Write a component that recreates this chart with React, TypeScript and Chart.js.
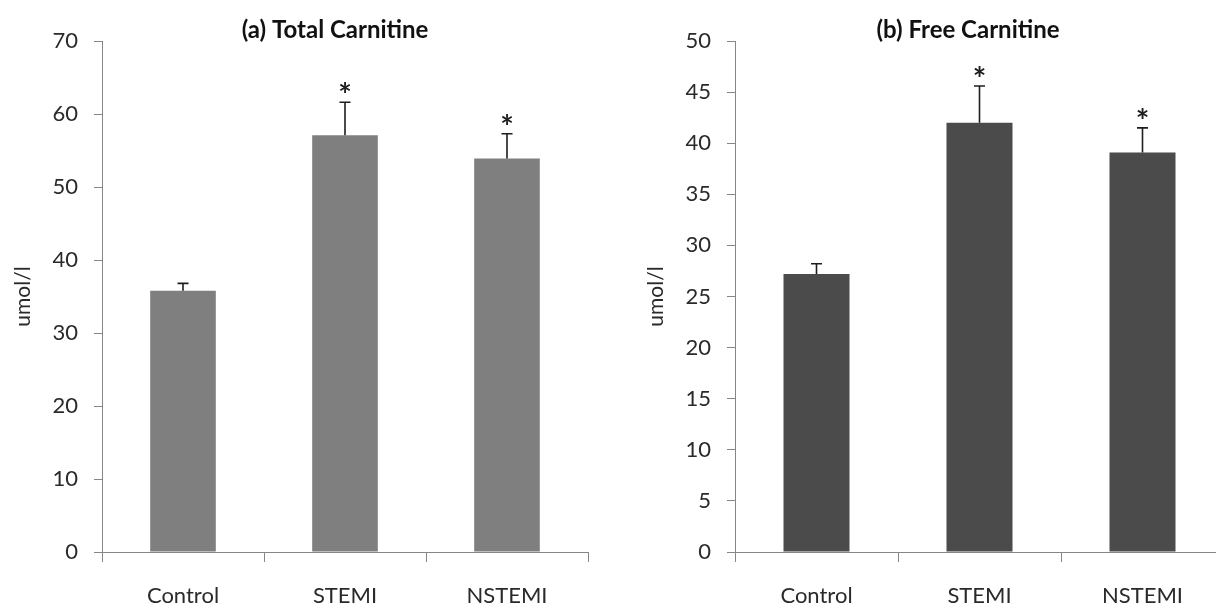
import React, { useEffect, useRef } from 'react';
import { Chart, registerables } from 'chart.js';

Chart.register(...registerables);

// ---- data ----
const categories = ['Control', 'STEMI', 'NSTEMI'];
const totalMeans = [35.8, 57.1, 53.9];
const totalErrors = [1.0, 4.5, 3.4];
const freeMeans = [27.2, 42.0, 39.1];
const freeErrors = [1.0, 3.6, 2.4];
const significant = [false, true, true];
const totalTitle = '(a) Total Carnitine';
const freeTitle = '(b) Free Carnitine';
const yAxisLabel = 'umol/l';
const totalMax = 70;
const totalStep = 10;
const freeMax = 50;
const freeStep = 5;

const FONT = 'Lato, "Open Sans", sans-serif';
const AXIS = '#868686';
const TEXT = '#2a2a2a';

const annotatePlugin = {
  id: 'annotate',
  afterDatasetsDraw(chart: any, _args: any, opts: any) {
    const { ctx } = chart;
    const meta = chart.getDatasetMeta(0);
    const y = chart.scales.y;
    ctx.save();
    meta.data.forEach((bar: any, i: number) => {
      const v = opts.means[i];
      const e = opts.errors[i];
      const x = bar.x;
      const y0 = y.getPixelForValue(v);
      const y1 = y.getPixelForValue(v + e);
      ctx.strokeStyle = '#1e1e1e';
      ctx.lineWidth = 1.6;
      ctx.beginPath();
      ctx.moveTo(x, y0);
      ctx.lineTo(x, y1);
      ctx.moveTo(x - 5.5, y1);
      ctx.lineTo(x + 5.5, y1);
      ctx.stroke();
      if (opts.stars[i]) {
        ctx.font = 'bold 32px ' + FONT;
        ctx.fillStyle = '#1e1e1e';
        ctx.textAlign = 'center';
        ctx.textBaseline = 'alphabetic';
        const m = ctx.measureText('*');
        const target = y1 - 15;
        const base = target - (m.actualBoundingBoxDescent - m.actualBoundingBoxAscent) / 2;
        ctx.fillText('*', x, base);
      }
    });
    ctx.font = 'bold 24px ' + FONT;
    ctx.fillStyle = '#111';
    ctx.textAlign = 'center';
    ctx.textBaseline = 'middle';
    ctx.fillText(opts.title, opts.titleX, opts.titleY);
    ctx.restore();
  },
};

function makeConfig(
  means: number[],
  errors: number[],
  color: string,
  max: number,
  step: number,
  title: string,
  titleX: number,
  yWidth: number,
  padRight: number,
  yTitlePad: number
): any {
  return {
    type: 'bar',
    data: {
      labels: categories,
      datasets: [
        {
          data: means,
          backgroundColor: color,
          borderWidth: 0,
          categoryPercentage: 1,
          barPercentage: 0.405,
        },
      ],
    },
    plugins: [annotatePlugin],
    options: {
      animation: false,
      responsive: false,
      layout: { padding: { left: 0, right: padRight, top: 41, bottom: 0 } },
      plugins: {
        legend: { display: false },
        tooltip: { enabled: false },
        title: { display: false },
        annotate: { means, errors, stars: significant, title, titleX, titleY: 30 },
      },
      scales: {
        x: {
          grid: {
            display: true,
            drawOnChartArea: false,
            drawTicks: true,
            tickLength: 10,
            color: AXIS,
            offset: true,
          },
          border: { display: true, color: AXIS, width: 1 },
          ticks: { color: TEXT, font: { family: FONT, size: 22 }, padding: 21, maxRotation: 0 },
          afterFit: (s: any) => {
            s.height = 54;
          },
        },
        y: {
          min: 0,
          max,
          ticks: { stepSize: step, color: TEXT, font: { family: FONT, size: 22 }, padding: 16 },
          grid: { drawOnChartArea: false, drawTicks: true, tickLength: 8, color: AXIS },
          border: { display: true, color: AXIS, width: 1 },
          title: {
            display: true,
            text: yAxisLabel,
            color: TEXT,
            font: { family: FONT, size: 21 },
            padding: { top: yTitlePad, bottom: 0 },
          },
          afterFit: (s: any) => {
            s.width = yWidth;
          },
        },
      },
    },
  };
}

export default function App() {
  const leftRef = useRef<HTMLCanvasElement>(null);
  const rightRef = useRef<HTMLCanvasElement>(null);

  useEffect(() => {
    const c1 = new Chart(
      leftRef.current!,
      makeConfig(totalMeans, totalErrors, '#7f7f7f', totalMax, totalStep, totalTitle, 335, 102, 20, 11)
    );
    const c2 = new Chart(
      rightRef.current!,
      makeConfig(freeMeans, freeErrors, '#4b4b4b', freeMax, freeStep, freeTitle, 360, 127, 4, 36)
    );
    return () => {
      c1.destroy();
      c2.destroy();
    };
  }, []);

  return (
    <div
      style={{
        position: 'fixed',
        left: 0,
        top: 0,
        width: 1216,
        height: 606,
        overflow: 'hidden',
        background: '#fff',
      }}
    >
      <div style={{ position: 'absolute', left: 0, top: 0, width: 608, height: 606 }}>
        <canvas ref={leftRef} width={608} height={606} />
      </div>
      <div style={{ position: 'absolute', left: 608, top: 0, width: 620, height: 606 }}>
        <canvas ref={rightRef} width={620} height={606} />
      </div>
    </div>
  );
}
